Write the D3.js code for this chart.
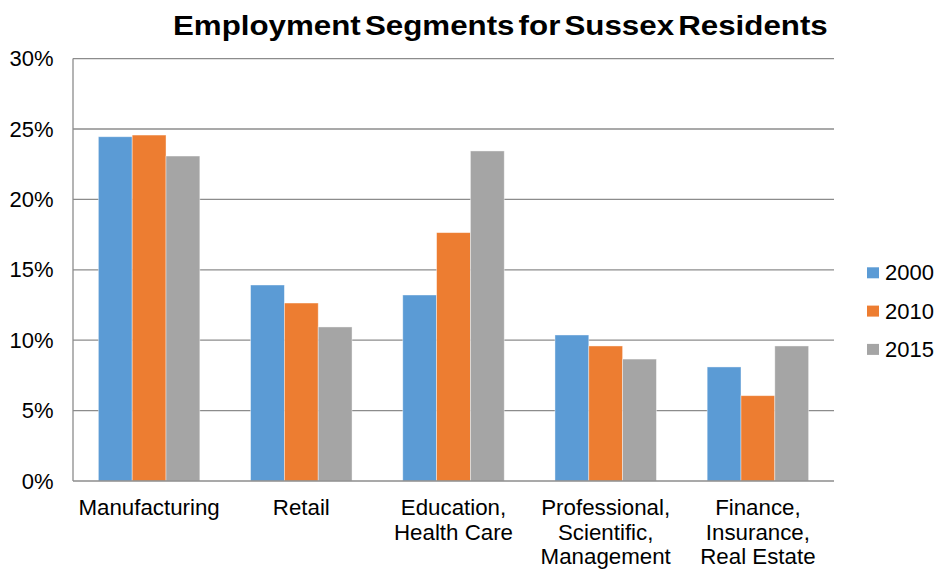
<!DOCTYPE html>
<html>
<head>
<meta charset="utf-8">
<script src="https://cdn.jsdelivr.net/npm/d3@7/dist/d3.min.js"></script>
<style>
  html, body { margin: 0; padding: 0; background: #fff; }
  svg { display: block; font-family: "Liberation Sans", Arial, sans-serif; }
</style>
</head>
<body>
<svg id="chart" width="936" height="569"></svg>
<script>
// Employment share by industry segment, Sussex residents
const categories = [
  ["Manufacturing"],
  ["Retail"],
  ["Education,", "Health Care"],
  ["Professional,", "Scientific,", "Management"],
  ["Finance,", "Insurance,", "Real Estate"]
];
const years = ["2000", "2010", "2015"];
const values2000 = [24.45, 13.92, 13.21, 10.37, 8.10];
const values2010 = [24.57, 12.64, 17.64, 9.59, 6.06];
const values2015 = [23.08, 10.94, 23.44, 8.66, 9.59];
const yTicks = [0, 5, 10, 15, 20, 25, 30];
const colors = ["#5B9BD5", "#ED7D31", "#A5A5A5"];

const series = [values2000, values2010, values2015];
const svg = d3.select("#chart");

const plot = { left: 73, right: 834, top: 58.6, bottom: 481 };
const labelSize = 22.3;

const x0 = d3.scaleBand()
  .domain(d3.range(categories.length))
  .range([plot.left, plot.right])
  .paddingInner(1.5 / 4.5)
  .paddingOuter(0.75 / 4.5);

const x1 = d3.scaleBand()
  .domain(d3.range(years.length))
  .range([0, x0.bandwidth()]);

const y = d3.scaleLinear().domain([0, 30]).range([plot.bottom, plot.top]);

// Title, widened to span its slot above the plot
const titleLeft = 173, titleRight = 828;
const title = svg.append("text")
  .attr("x", 0)
  .attr("y", 0)
  .attr("font-weight", "bold")
  .attr("font-size", 27.5)
  .attr("word-spacing", -4)
  .attr("fill", "#000")
  .text("Employment Segments for Sussex Residents");
const tw = title.node().getComputedTextLength();
title.attr("transform",
  `translate(${titleLeft},35) scale(${(titleRight - titleLeft) / tw},1)`);

// Horizontal gridlines
svg.append("g")
  .selectAll("line")
  .data(yTicks.filter(d => d > 0))
  .join("line")
  .attr("x1", plot.left)
  .attr("x2", plot.right)
  .attr("y1", d => y(d))
  .attr("y2", d => y(d))
  .attr("stroke", "#8c8c8c")
  .attr("stroke-width", 1.3);

// Y axis labels
const yAxis = d3.axisLeft(y)
  .tickValues(yTicks)
  .tickFormat(d => d + "%")
  .tickSize(0)
  .tickPadding(19.5);
const gy = svg.append("g")
  .attr("transform", `translate(${plot.left},0)`)
  .call(yAxis);
gy.select(".domain").remove();
gy.selectAll("text")
  .attr("font-family", "Liberation Sans, Arial, sans-serif")
  .attr("font-size", 22)
  .attr("fill", "#000");

// Bars
const groups = svg.append("g")
  .selectAll("g")
  .data(categories.map((c, i) => i))
  .join("g")
  .attr("transform", i => `translate(${x0(i)},0)`);

groups.selectAll("rect")
  .data(i => series.map((s, k) => ({ k, v: s[i] })))
  .join("rect")
  .attr("x", d => x1(d.k))
  .attr("width", x1.bandwidth())
  .attr("y", d => y(d.v))
  .attr("height", d => y(0) - y(d.v))
  .attr("fill", d => colors[d.k])
  .attr("stroke", "#fff")
  .attr("stroke-opacity", 0.5)
  .attr("stroke-width", 0.8);

// Axis lines (left and bottom)
svg.append("line")
  .attr("x1", plot.left).attr("x2", plot.left)
  .attr("y1", plot.top).attr("y2", plot.bottom)
  .attr("stroke", "#8c8c8c").attr("stroke-width", 1.3);
svg.append("line")
  .attr("x1", plot.left).attr("x2", plot.right)
  .attr("y1", plot.bottom).attr("y2", plot.bottom)
  .attr("stroke", "#8c8c8c").attr("stroke-width", 1.3);

// Category labels
const xl = svg.append("g");
categories.forEach((lines, i) => {
  const cx = x0(i) + x0.bandwidth() / 2;
  const t = xl.append("text")
    .attr("x", cx)
    .attr("y", 515)
    .attr("text-anchor", "middle")
    .attr("font-size", labelSize)
    .attr("fill", "#000");
  lines.forEach((ln, j) => {
    t.append("tspan")
      .attr("x", cx)
      .attr("dy", j === 0 ? 0 : 24.6)
      .text(ln);
  });
});

// Legend
const legend = svg.append("g");
years.forEach((yr, k) => {
  const cy = 272.8 + k * 38.3;
  legend.append("rect")
    .attr("x", 867).attr("y", cy - 5.5)
    .attr("width", 12).attr("height", 11)
    .attr("fill", colors[k]);
  legend.append("text")
    .attr("x", 885).attr("y", cy + 7.5)
    .attr("font-size", 22)
    .attr("fill", "#000")
    .text(yr);
});
</script>
</body>
</html>
